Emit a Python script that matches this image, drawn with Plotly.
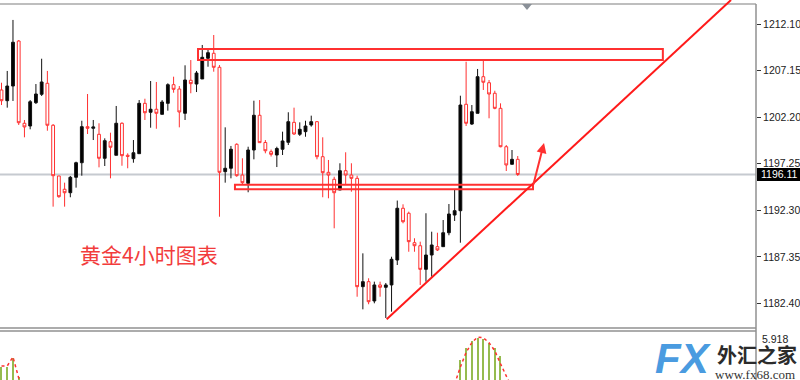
import plotly.graph_objects as go

# ---------------- data ----------------
opens = [1205.09, 1203.95, 1205.51, 1210.29, 1201.55, 1201.26, 1203.74, 1204.63, 1205.80, 1201.34,
         1195.95, 1194.54, 1194.17, 1195.81, 1197.36, 1201.19, 1201.02, 1200.38, 1197.83, 1199.59,
         1198.15, 1201.55, 1198.15, 1197.79, 1198.32, 1203.67, 1202.72, 1203.04, 1202.50, 1203.67,
         1205.65, 1205.19, 1202.61, 1206.12, 1205.72, 1206.26, 1208.46, 1208.99, 1207.50, 1196.41,
         1196.77, 1199.32, 1196.05, 1195.17, 1198.71, 1202.40, 1199.51, 1198.53, 1198.18, 1198.79,
         1199.53, 1201.65, 1200.38, 1200.66, 1201.37, 1201.72, 1198.00, 1196.34, 1195.60, 1194.46,
         1196.51, 1196.05, 1195.70, 1184.19, 1184.72, 1182.67, 1184.37, 1184.12, 1184.37, 1187.02,
         1192.52, 1191.99, 1188.86, 1188.54, 1186.03, 1187.55, 1188.44, 1188.44, 1189.92, 1191.80,
         1192.26, 1203.57, 1201.47, 1202.61, 1206.50, 1205.86, 1204.74, 1203.14, 1199.06, 1197.19,
         1197.72]
highs = [1205.86, 1207.11, 1212.53, 1210.40, 1201.90, 1204.02, 1205.72, 1208.41, 1207.11, 1201.47,
         1195.95, 1195.24, 1195.95, 1197.47, 1201.82, 1204.66, 1201.90, 1201.55, 1199.95, 1200.55,
         1203.39, 1201.65, 1198.36, 1199.77, 1204.02, 1204.16, 1206.04, 1205.94, 1204.02, 1205.80,
         1206.50, 1205.51, 1207.71, 1208.27, 1207.11, 1209.87, 1209.34, 1210.93, 1207.74, 1201.12,
         1199.14, 1199.42, 1197.83, 1199.06, 1203.95, 1204.02, 1199.77, 1198.76, 1199.06, 1200.66,
         1202.72, 1203.21, 1201.65, 1201.82, 1202.36, 1201.79, 1200.06, 1197.65, 1195.87, 1197.30,
         1198.47, 1197.30, 1195.98, 1187.73, 1185.08, 1184.72, 1184.72, 1184.58, 1187.37, 1193.34,
         1192.94, 1192.16, 1189.33, 1188.97, 1191.99, 1190.03, 1189.92, 1191.27, 1192.97, 1194.54,
         1204.48, 1208.09, 1203.49, 1207.32, 1208.20, 1206.15, 1205.01, 1203.67, 1199.24, 1198.71,
         1198.07]
lows = [1203.49, 1203.21, 1203.92, 1201.37, 1200.06, 1200.91, 1203.60, 1204.45, 1200.76, 1192.69,
        1193.64, 1192.69, 1193.69, 1194.71, 1195.98, 1200.41, 1199.77, 1196.87, 1197.01, 1195.70,
        1198.15, 1197.04, 1196.77, 1197.36, 1198.32, 1201.90, 1201.08, 1200.97, 1202.50, 1202.89,
        1204.80, 1201.12, 1201.90, 1204.74, 1204.87, 1206.26, 1207.56, 1207.03, 1191.62, 1195.24,
        1195.70, 1195.87, 1195.10, 1194.22, 1197.72, 1199.49, 1198.36, 1198.02, 1196.90, 1198.18,
        1199.24, 1200.31, 1200.20, 1200.12, 1201.19, 1197.72, 1193.69, 1193.58, 1190.39, 1194.46,
        1195.10, 1194.28, 1183.12, 1181.78, 1182.32, 1182.42, 1183.12, 1180.86, 1181.53, 1186.49,
        1190.92, 1187.90, 1187.90, 1184.37, 1184.72, 1185.25, 1187.98, 1188.44, 1189.65, 1191.17,
        1188.86, 1201.26, 1201.37, 1202.61, 1205.09, 1202.08, 1203.04, 1199.00, 1196.48, 1197.19,
        1195.95]
closes = [1203.95, 1205.51, 1210.16, 1201.61, 1201.16, 1203.84, 1204.66, 1205.94, 1201.34, 1195.98,
          1193.75, 1194.17, 1195.81, 1197.36, 1201.19, 1201.02, 1201.16, 1197.83, 1199.70, 1199.00,
          1201.55, 1198.11, 1198.04, 1198.42, 1203.67, 1202.67, 1203.04, 1202.61, 1203.81, 1205.65,
          1205.16, 1202.75, 1206.15, 1205.76, 1206.89, 1208.56, 1209.05, 1207.50, 1196.34, 1196.77,
          1198.79, 1195.98, 1195.24, 1198.71, 1202.40, 1199.49, 1198.63, 1198.25, 1198.87, 1199.67,
          1201.72, 1200.41, 1200.91, 1201.26, 1201.72, 1198.00, 1196.30, 1196.05, 1194.17, 1196.51,
          1196.05, 1195.70, 1184.19, 1184.72, 1182.59, 1184.37, 1184.12, 1184.37, 1187.10, 1192.52,
          1191.09, 1188.97, 1188.54, 1186.03, 1187.55, 1188.62, 1188.09, 1189.92, 1191.91, 1192.26,
          1203.49, 1201.55, 1202.78, 1206.50, 1205.91, 1204.66, 1203.14, 1199.06, 1197.12, 1197.72,
          1196.11]
bar_index = list(range(len(opens)))

# lower indicator pane (histogram + dotted signal); None = outside the visible pane
hist_vals = [1.64, 1.64, 2.71, 0.41] + [None] * 76 + [2.5, 4.0, 4.8, 5.2, 5.1, 4.6, 4.0, 3.0] + [None] * 3
signal_vals = [1.73, 1.73, 2.84, 0.25, -0.8] + [None] * 74 + [-0.5, 1.6, 3.4, 4.6, 5.3, 5.2, 4.6, 3.6, 2.0, 0.3, -1.0, None]
pane_max = 5.918

price_ticks = [1182.40, 1187.35, 1192.30, 1197.25, 1202.20, 1207.15, 1212.10]
price_tick_text = ["1182.40", "1187.35", "1192.30", "1197.25", "1202.20", "1207.15", "1212.10"]
last_price = 1196.11

# hand-drawn analysis marks (bar index, price)
resistance_zone = [1208.27, 1209.44]
resistance_span = [34.26, 115.3]
support_zone = [1194.54, 1195.01]
support_span = [40.7, 92.66]
trend_start = [67.15, 1180.72]
trend_end = [127.18, 1214.65]
arrow_tail = [92.66, 1194.89]
arrow_head = [94.58, 1199.46]
title_pos = [25.7, 1187.66]
title_text = "黄金4小时图表"

# ---------------- figure ----------------
RED = "#ff3030"
fig = go.Figure()

fig.add_trace(go.Candlestick(
    x=bar_index, open=opens, high=highs, low=lows, close=closes,
    increasing=dict(line=dict(color="#111111", width=1), fillcolor="#000000"),
    decreasing=dict(line=dict(color=RED, width=1), fillcolor="#ffffff"),
    whiskerwidth=0, xaxis="x", yaxis="y", hoverinfo="skip"))

fig.add_trace(go.Bar(x=bar_index, y=hist_vals, width=0.2, marker=dict(color="#95bb4f", line=dict(width=0)),
                     xaxis="x2", yaxis="y2", hoverinfo="skip"))
fig.add_trace(go.Scatter(x=bar_index, y=signal_vals, mode="lines", connectgaps=False,
                         line=dict(color=RED, width=1.5, dash="dot"), xaxis="x2", yaxis="y2", hoverinfo="skip"))

W, H = 800, 380
PLOT_W = 756
px = lambda v: v / PLOT_W          # pixel x -> paper x
py = lambda v: (H - v) / H         # pixel y -> paper y

x_range = [(0 - 1.5) / 5.736, (PLOT_W - 1.5) / 5.736]

shapes = [
    # last-price line
    dict(type="line", xref="paper", yref="y", x0=0, x1=1, y0=last_price, y1=last_price,
         line=dict(color="#c6cad0", width=2), layer="below"),
    # frame lines
    dict(type="line", xref="paper", yref="paper", x0=0, x1=1, y0=py(4), y1=py(4),
         line=dict(color="#a8a8a8", width=1.5)),
    dict(type="line", xref="paper", yref="paper", x0=0, x1=1, y0=py(328), y1=py(328),
         line=dict(color="#909090", width=1.5)),
    dict(type="line", xref="paper", yref="paper", x0=0, x1=1, y0=py(331), y1=py(331),
         line=dict(color="#909090", width=1.5)),
    dict(type="line", xref="paper", yref="paper", x0=1, x1=1, y0=0, y1=py(4),
         line=dict(color="#909090", width=1.5)),
    # chart-shift marker
    dict(type="path", xref="paper", yref="paper",
         path=f"M {px(522)} {py(4)} L {px(532)} {py(4)} L {px(527)} {py(10)} Z",
         fillcolor="#8a9098", line=dict(width=0)),
    # analysis boxes
    dict(type="rect", xref="x", yref="y", x0=resistance_span[0], x1=resistance_span[1],
         y0=resistance_zone[0], y1=resistance_zone[1], line=dict(color=RED, width=2)),
    dict(type="rect", xref="x", yref="y", x0=support_span[0], x1=support_span[1],
         y0=support_zone[0], y1=support_zone[1], line=dict(color=RED, width=2)),
    # trend line
    dict(type="line", xref="x", yref="y", x0=trend_start[0], y0=trend_start[1],
         x1=trend_end[0], y1=trend_end[1], line=dict(color="#ff1a1a", width=2)),
    # last price box
    dict(type="rect", xref="paper", yref="y", x0=px(757), x1=px(800),
         y0=last_price - 0.68, y1=last_price + 0.68, fillcolor="#000000", line=dict(width=0)),
]

annotations = [
    dict(x=arrow_head[0], y=arrow_head[1], ax=arrow_tail[0], ay=arrow_tail[1], xref="x", yref="y",
         axref="x", ayref="y", text="", showarrow=True, arrowhead=2, arrowsize=1, arrowwidth=2,
         arrowcolor=RED),
    dict(x=title_pos[0], y=title_pos[1], xref="x", yref="y", text=title_text, showarrow=False,
         font=dict(family="Noto Sans CJK SC", size=21, color="#f23c3c")),
    dict(x=px(759), y=last_price, xref="paper", yref="y", text=f"{last_price:.2f}", showarrow=False,
         xanchor="left", yanchor="middle", font=dict(family="Liberation Sans", size=10.5, color="#ffffff")),
    dict(x=px(760), y=py(331), xref="paper", yref="paper", text=f"{pane_max:.3f}", showarrow=False,
         xanchor="left", yanchor="top", font=dict(family="Liberation Sans", size=10.5, color="#222222")),
    # watermark
    dict(x=px(653), y=py(358), xref="paper", yref="paper", text="<b><i>FX</i></b>", showarrow=False,
         xanchor="left", yanchor="middle",
         font=dict(family="Liberation Sans", size=42, color="#4a9be0")),
    dict(x=px(799), y=py(354), xref="paper", yref="paper", text="<b>外汇之家</b>", showarrow=False,
         xanchor="right", yanchor="middle",
         font=dict(family="Noto Sans CJK SC", size=20, color="#2b2b2b")),
    dict(x=px(797), y=py(374), xref="paper", yref="paper", text="www.fx68.com", showarrow=False,
         xanchor="right", yanchor="middle",
         font=dict(family="Liberation Serif", size=13, color="#333333")),
]

fig.update_layout(
    width=W, height=H,
    margin=dict(l=0, r=W - PLOT_W, t=0, b=0, pad=0),
    paper_bgcolor="#ffffff", plot_bgcolor="#ffffff",
    showlegend=False,
    xaxis=dict(domain=[0, 1], range=x_range, visible=False, rangeslider=dict(visible=False),
               anchor="y", fixedrange=True),
    xaxis2=dict(domain=[0, 1], matches="x", visible=False, anchor="y2"),
    yaxis=dict(domain=[py(328), 1], range=[1214.65 - 328 * 0.10626, 1214.65], side="right",
               tickvals=price_ticks, ticktext=price_tick_text, ticks="outside", ticklen=4,
               tickcolor="#333333", showgrid=False, zeroline=False, showline=False,
               tickfont=dict(family="Liberation Sans", size=10.5, color="#222222"),
               anchor="x", fixedrange=True, automargin=False),
    yaxis2=dict(domain=[0, py(332)], range=[0, pane_max], visible=False, anchor="x2"),
    shapes=shapes,
    annotations=annotations,
    bargap=0,
)

fig.write_html("out.html", config={"displayModeBar": False},
               post_script="document.body.style.margin='0';document.body.style.overflow='hidden';")
